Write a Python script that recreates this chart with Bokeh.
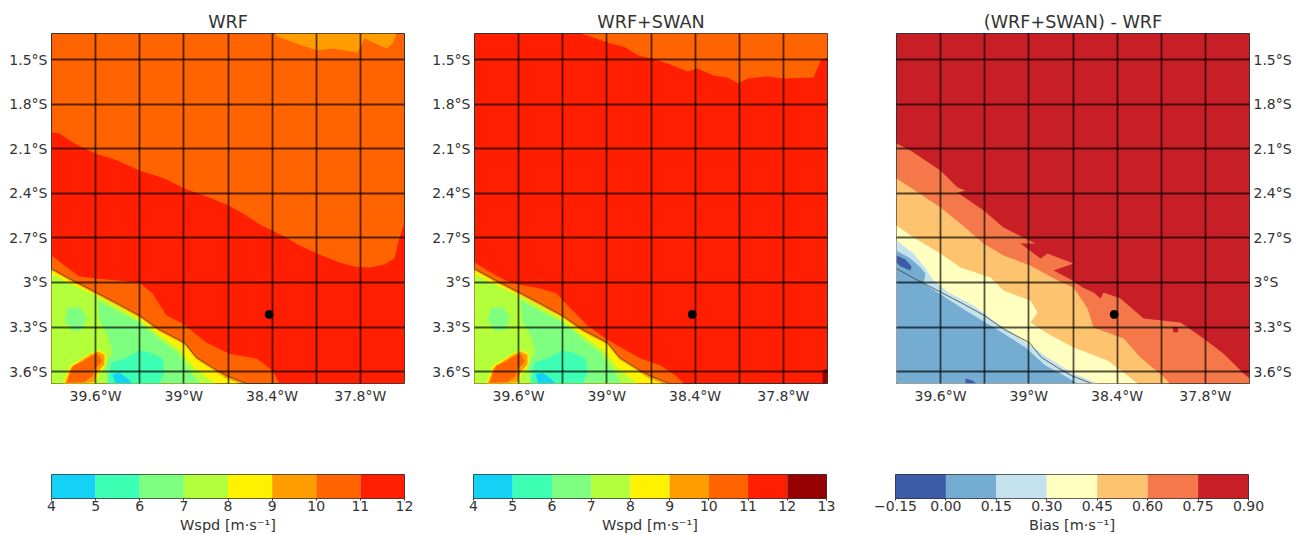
from bokeh.plotting import figure
from bokeh.layouts import column, row
from bokeh.models import FixedTicker, Range1d
from bokeh.embed import file_html
from bokeh.resources import INLINE

# ---------- axis ticks ----------
LON_TICKS = [-39.6, -39.3, -39.0, -38.7, -38.4, -38.1, -37.8]
LON_LABELS = ["39.6°W", "", "39°W", "", "38.4°W", "", "37.8°W"]
LAT_TICKS = [-1.5, -1.8, -2.1, -2.4, -2.7, -3.0, -3.3, -3.6]
LAT_LABELS = ["1.5°S", "1.8°S", "2.1°S", "2.4°S", "2.7°S", "3°S", "3.3°S", "3.6°S"]
LON_LIMITS = (-39.9, -37.5)
LAT_LIMITS = (-3.68, -1.325)

# ---------- colour levels ----------
WSPD_LEVELS = [4, 5, 6, 7, 8, 9, 10, 11, 12, 13]
WSPD_COLORS = ["#14d2f5", "#3cffb4", "#7fff7f", "#b4ff3c", "#fff200", "#ff9d00", "#ff6400", "#ff1e00", "#960000"]
BIAS_LEVELS = [-0.15, 0.0, 0.15, 0.30, 0.45, 0.60, 0.75, 0.90]
BIAS_LABELS = ["−0.15", "0.00", "0.15", "0.30", "0.45", "0.60", "0.75", "0.90"]
BIAS_COLORS = ["#3c5ca8", "#74add1", "#c4e2ee", "#ffffbf", "#fdc36f", "#f4784a", "#c81f26"]

# ---------- station ----------
STATION_LON = [-38.42]
STATION_LAT = [-3.215]

# ---------- coast ----------
COAST_LON = [-39.9, -39.778, -39.594, -39.438, -39.302, -39.166, -38.996, -38.914, -38.805, -38.71, -38.574]
COAST_LAT = [-2.907, -2.974, -3.068, -3.149, -3.223, -3.317, -3.405, -3.505, -3.573, -3.627, -3.68]

# ---------- land wind-speed contours (shared by WRF and WRF+SWAN) ----------
LAND_YELLOW_LON = [-39.9, -39.778, -39.594, -39.302, -39.166, -38.996, -38.914, -38.805, -38.724, -38.622, -39.9]
LAND_YELLOW_LAT = [-2.92, -2.987, -3.081, -3.236, -3.33, -3.418, -3.519, -3.586, -3.64, -3.68, -3.68]
LAND_LIME_LON = [-39.9, -39.778, -39.594, -39.438, -39.302, -39.166, -39.03, -38.928, -38.846, -38.785, -39.9]
LAND_LIME_LAT = [-2.94, -3.005, -3.09, -3.17, -3.25, -3.355, -3.45, -3.57, -3.64, -3.68, -3.68]
LAND_GREEN_LON = [-39.587, -39.438, -39.302, -39.166, -39.043, -38.961, -38.894, -39.519, -39.54, -39.485, -39.519, -39.574]
LAND_GREEN_LAT = [-3.122, -3.203, -3.27, -3.38, -3.475, -3.59, -3.68, -3.68, -3.559, -3.472, -3.357, -3.257]
LAND_GREEN2_LON = [-39.79, -39.71, -39.66, -39.69, -39.76, -39.81]
LAND_GREEN2_LAT = [-3.17, -3.165, -3.23, -3.32, -3.33, -3.25]
LAND_TEAL_LON = [-39.492, -39.404, -39.302, -39.234, -39.145, -39.132, -39.166, -39.519, -39.506]
LAND_TEAL_LAT = [-3.539, -3.512, -3.458, -3.472, -3.512, -3.606, -3.68, -3.68, -3.606]
LAND_CYAN_LON = [-39.485, -39.438, -39.383, -39.349, -39.465]
LAND_CYAN_LAT = [-3.62, -3.606, -3.647, -3.68, -3.68]
HILL_YELLOW_LON = [-39.82, -39.78, -39.69, -39.628, -39.58, -39.53, -39.53, -39.58, -39.6]
HILL_YELLOW_LAT = [-3.68, -3.565, -3.51, -3.475, -3.455, -3.48, -3.555, -3.62, -3.68]
HILL_ORANGE_LON = [-39.81, -39.77, -39.69, -39.635, -39.587, -39.54, -39.54, -39.59, -39.61, -39.71, -39.805]
HILL_ORANGE_LAT = [-3.68, -3.575, -3.52, -3.485, -3.465, -3.487, -3.55, -3.61, -3.67, -3.68, -3.68]
HILL_DARK_LON = [-39.795, -39.755, -39.685, -39.635, -39.59, -39.555, -39.61, -39.62, -39.675, -39.785]
HILL_DARK_LAT = [-3.67, -3.56, -3.53, -3.5, -3.478, -3.53, -3.585, -3.63, -3.67, -3.675]

# ---------- WRF ocean contours ----------
WRF_TOP_LON = [-38.384, -38.363, -38.234, -38.091, -37.989, -37.819, -37.772, -37.622, -37.581, -37.554]
WRF_TOP_LAT = [-1.325, -1.345, -1.392, -1.439, -1.426, -1.453, -1.359, -1.426, -1.392, -1.325]
WRF_RED_LON = [-39.9, -39.846, -39.744, -39.601, -39.451, -39.302, -39.132, -38.996, -38.846, -38.696, -38.588,
               -38.472, -38.316, -38.214, -38.078, -37.942, -37.84, -37.738, -37.636, -37.568, -37.54, -37.5,
               -37.5, -38.35, -38.397, -38.506, -38.69, -38.846, -39.009, -39.118, -39.213, -39.302, -39.594,
               -39.71, -39.812, -39.9]
WRF_RED_LAT = [-1.991, -1.998, -2.065, -2.133, -2.18, -2.247, -2.301, -2.368, -2.422, -2.483, -2.543,
               -2.617, -2.691, -2.752, -2.812, -2.866, -2.893, -2.9, -2.88, -2.839, -2.718, -2.597,
               -3.68, -3.68, -3.593, -3.512, -3.479, -3.405, -3.277, -3.223, -3.075, -3.001, -2.974,
               -2.96, -2.886, -2.819]

# ---------- WRF+SWAN ocean contours ----------
SWAN_TOP_LON = [-39.179, -39.132, -38.996, -38.873, -38.785, -38.69, -38.588, -38.452, -38.384, -38.275, -38.18,
                -38.105, -38.044, -37.908, -37.799, -37.595, -37.547, -37.5, -37.5]
SWAN_TOP_LAT = [-1.325, -1.338, -1.386, -1.419, -1.473, -1.493, -1.527, -1.581, -1.561, -1.608, -1.621,
                -1.662, -1.628, -1.614, -1.628, -1.621, -1.507, -1.487, -1.325]
SWAN_STRIP_LON = [-39.9, -39.812, -39.689, -39.601, -39.451, -39.342, -39.247, -39.132, -38.989, -38.771, -38.635,
                  -38.533, -38.479, -39.9]
SWAN_STRIP_LAT = [-2.866, -2.92, -2.987, -3.014, -3.041, -3.075, -3.176, -3.29, -3.391, -3.512, -3.559,
                  -3.627, -3.68, -3.68]
SWAN_DARK_LON = [-37.534, -37.5, -37.5, -37.534]
SWAN_DARK_LAT = [-3.593, -3.58, -3.68, -3.68]

# ---------- bias contours ----------
BIAS_A_LON = [-39.9, -39.805, -39.601, -39.485, -39.431, -39.485, -39.308, -39.172, -39.036, -38.955, -39.057,
              -38.921, -38.873, -38.696, -38.832, -38.703, -38.635, -38.56, -38.513, -38.492, -38.377, -38.22,
              -37.969, -37.812, -37.676, -37.54, -37.5, -37.5, -39.9]
BIAS_A_LAT = [-2.065, -2.112, -2.247, -2.361, -2.382, -2.395, -2.516, -2.631, -2.698, -2.738, -2.738,
              -2.839, -2.806, -2.873, -2.92, -2.987, -3.034, -3.068, -3.108, -3.068, -3.108, -3.243,
              -3.27, -3.378, -3.479, -3.613, -3.647, -3.68, -3.68]
BIAS_B_LON = [-39.9, -39.805, -39.601, -39.465, -39.308, -39.172, -38.989, -38.805, -38.696, -38.601, -38.56,
              -38.356, -38.241, -38.071, -38.044, -39.9]
BIAS_B_LAT = [-2.301, -2.361, -2.496, -2.604, -2.738, -2.819, -2.886, -2.987, -3.034, -3.176, -3.304,
              -3.378, -3.505, -3.647, -3.68, -3.68]
BIAS_C_LON = [-39.9, -39.784, -39.601, -39.465, -39.261, -39.172, -38.989, -38.941, -38.989, -38.873, -38.696,
              -38.465, -38.356, -38.261, -39.9]
BIAS_C_LAT = [-2.617, -2.698, -2.806, -2.9, -2.967, -3.055, -3.122, -3.203, -3.27, -3.344, -3.438,
              -3.526, -3.606, -3.68, -3.68]
BIAS_D_LON = [-39.9, -39.784, -39.703, -39.648, -39.546, -39.376, -39.213, -39.104, -39.057, -38.968, -38.873,
              -38.696, -38.581, -38.533, -39.9]
BIAS_D_LAT = [-2.718, -2.806, -2.907, -2.987, -3.068, -3.156, -3.277, -3.344, -3.378, -3.438, -3.505,
              -3.613, -3.66, -3.68, -3.68]
BIAS_E_LON = [-39.9, -39.805, -39.737, -39.703, -39.716, -39.567, -39.431, -39.295, -39.172, -39.023, -38.887,
              -38.785, -38.669, -39.9]
BIAS_E_LAT = [-2.785, -2.839, -2.9, -2.94, -3.007, -3.101, -3.189, -3.27, -3.344, -3.438, -3.559,
              -3.613, -3.68, -3.68]
BIAS_LOW1_LON = [-39.9, -39.839, -39.798, -39.805, -39.873, -39.9]
BIAS_LOW1_LAT = [-2.819, -2.846, -2.893, -2.92, -2.893, -2.866]
BIAS_LOW2_LON = [-39.431, -39.383, -39.356, -39.431]
BIAS_LOW2_LAT = [-3.647, -3.66, -3.68, -3.68]
BIAS_SPOT_LON = [-38.02, -37.985, -37.985, -38.02]
BIAS_SPOT_LAT = [-3.30, -3.30, -3.335, -3.335]

FONT = "DejaVu Sans"
TEXT = "#333333"
EDGE = "#333333"


def map_panel(title, base, layers, side, left_border):
    p = figure(frame_width=353, frame_height=350, output_backend="svg", toolbar_location=None,
               x_range=Range1d(*LON_LIMITS), y_range=Range1d(*LAT_LIMITS), title=title,
               y_axis_location=side, min_border_top=33, min_border_bottom=57,
               min_border_left=left_border, min_border_right=49 if side == "right" else 25,
               background_fill_color=base, outline_line_color=EDGE, outline_line_width=1)
    p.title.align = "center"
    p.title.text_font = FONT
    p.title.text_font_size = "17.6px"
    p.title.text_font_style = "normal"
    p.title.text_color = TEXT
    p.title.standoff = 3
    for lon, lat, color in layers:
        p.patch(lon, lat, fill_color=color, line_color=None)
    p.line(COAST_LON, COAST_LAT, line_color="#3a3a2a", line_width=1, line_alpha=0.75)
    p.scatter(STATION_LON, STATION_LAT, size=8, color="black")

    p.xaxis.ticker = FixedTicker(ticks=LON_TICKS)
    p.xaxis.major_label_overrides = dict(zip(LON_TICKS, LON_LABELS))
    p.yaxis.ticker = FixedTicker(ticks=LAT_TICKS)
    p.yaxis.major_label_overrides = dict(zip(LAT_TICKS, LAT_LABELS))
    for ax in (p.xaxis, p.yaxis):
        ax.axis_line_color = None
        ax.major_tick_line_color = None
        ax.minor_tick_line_color = None
        ax.major_tick_out = 0
        ax.major_tick_in = 0
        ax.major_label_text_font = FONT
        ax.major_label_text_font_size = "14px"
        ax.major_label_text_color = TEXT
        ax.major_label_standoff = 4
    for g in (p.xgrid, p.ygrid):
        g.level = "overlay"
        g.grid_line_color = "#000000"
        g.grid_line_alpha = 0.66
        g.grid_line_width = 1.8
    p.xgrid.ticker = FixedTicker(ticks=LON_TICKS)
    p.ygrid.ticker = FixedTicker(ticks=LAT_TICKS)
    return p


def bar_panel(levels, colors, label, tick_labels, left_border, right_border):
    p = figure(frame_width=353, frame_height=24, output_backend="svg", toolbar_location=None,
               x_range=Range1d(levels[0], levels[-1]), y_range=Range1d(0, 1),
               min_border_top=34, min_border_bottom=36, min_border_left=left_border, min_border_right=right_border,
               outline_line_color=EDGE, outline_line_width=1)
    p.quad(left=levels[:-1], right=levels[1:], bottom=0, top=1, fill_color=colors, line_color=None)
    p.yaxis.visible = False
    p.grid.visible = False
    ax = p.xaxis[0]
    ax.ticker = FixedTicker(ticks=levels)
    ax.major_label_overrides = dict(zip(levels, tick_labels))
    ax.axis_line_color = None
    ax.minor_tick_line_color = None
    ax.major_tick_line_color = EDGE
    ax.major_tick_in = 0
    ax.major_tick_out = 2
    ax.major_label_standoff = 0
    ax.major_label_text_font = FONT
    ax.major_label_text_font_size = "14px"
    ax.major_label_text_color = TEXT
    ax.axis_label = label
    ax.axis_label_standoff = 3
    ax.axis_label_text_font = FONT
    ax.axis_label_text_font_size = "14.5px"
    ax.axis_label_text_font_style = "normal"
    ax.axis_label_text_color = TEXT
    return p


LAND_LAYERS = [
    (COAST_LON + [-39.9], COAST_LAT + [-3.68], WSPD_COLORS[5]),
    (LAND_YELLOW_LON, LAND_YELLOW_LAT, WSPD_COLORS[4]),
    (LAND_LIME_LON, LAND_LIME_LAT, WSPD_COLORS[3]),
    (LAND_GREEN_LON, LAND_GREEN_LAT, WSPD_COLORS[2]),
    (LAND_GREEN2_LON, LAND_GREEN2_LAT, WSPD_COLORS[2]),
    (LAND_TEAL_LON, LAND_TEAL_LAT, WSPD_COLORS[1]),
    (LAND_CYAN_LON, LAND_CYAN_LAT, WSPD_COLORS[0]),
    (HILL_YELLOW_LON, HILL_YELLOW_LAT, WSPD_COLORS[4]),
    (HILL_ORANGE_LON, HILL_ORANGE_LAT, WSPD_COLORS[5]),
    (HILL_DARK_LON, HILL_DARK_LAT, WSPD_COLORS[6]),
]

p1 = map_panel("WRF", WSPD_COLORS[6],
               [(WRF_TOP_LON, WRF_TOP_LAT, WSPD_COLORS[5]), (WRF_RED_LON, WRF_RED_LAT, WSPD_COLORS[7])] + LAND_LAYERS,
               "left", 51)
p2 = map_panel("WRF+SWAN", WSPD_COLORS[7],
               [(SWAN_TOP_LON, SWAN_TOP_LAT, WSPD_COLORS[6]), (SWAN_STRIP_LON, SWAN_STRIP_LAT, WSPD_COLORS[6]),
                (SWAN_DARK_LON, SWAN_DARK_LAT, WSPD_COLORS[8])] + LAND_LAYERS,
               "left", 44)
p3 = map_panel("(WRF+SWAN) - WRF", BIAS_COLORS[6],
               [(BIAS_A_LON, BIAS_A_LAT, BIAS_COLORS[5]), (BIAS_SPOT_LON, BIAS_SPOT_LAT, BIAS_COLORS[6]),
                (BIAS_B_LON, BIAS_B_LAT, BIAS_COLORS[4]), (BIAS_C_LON, BIAS_C_LAT, BIAS_COLORS[3]),
                (BIAS_D_LON, BIAS_D_LAT, BIAS_COLORS[2]), (BIAS_E_LON, BIAS_E_LAT, BIAS_COLORS[1]),
                (BIAS_LOW1_LON, BIAS_LOW1_LAT, BIAS_COLORS[0]), (BIAS_LOW2_LON, BIAS_LOW2_LAT, BIAS_COLORS[0])],
               "right", 44)

b1 = bar_panel(WSPD_LEVELS[:9], WSPD_COLORS[:8], "Wspd [m·s⁻¹]", [str(v) for v in WSPD_LEVELS[:9]], 51, 25)
b2 = bar_panel(WSPD_LEVELS, WSPD_COLORS, "Wspd [m·s⁻¹]", [str(v) for v in WSPD_LEVELS], 44, 25)
b3 = bar_panel(BIAS_LEVELS, BIAS_COLORS, "Bias [m·s⁻¹]", BIAS_LABELS, 44, 49)

page = column(row(p1, p2, p3), row(b1, b2, b3))
open("out.html", "w").write(file_html(page, INLINE))
